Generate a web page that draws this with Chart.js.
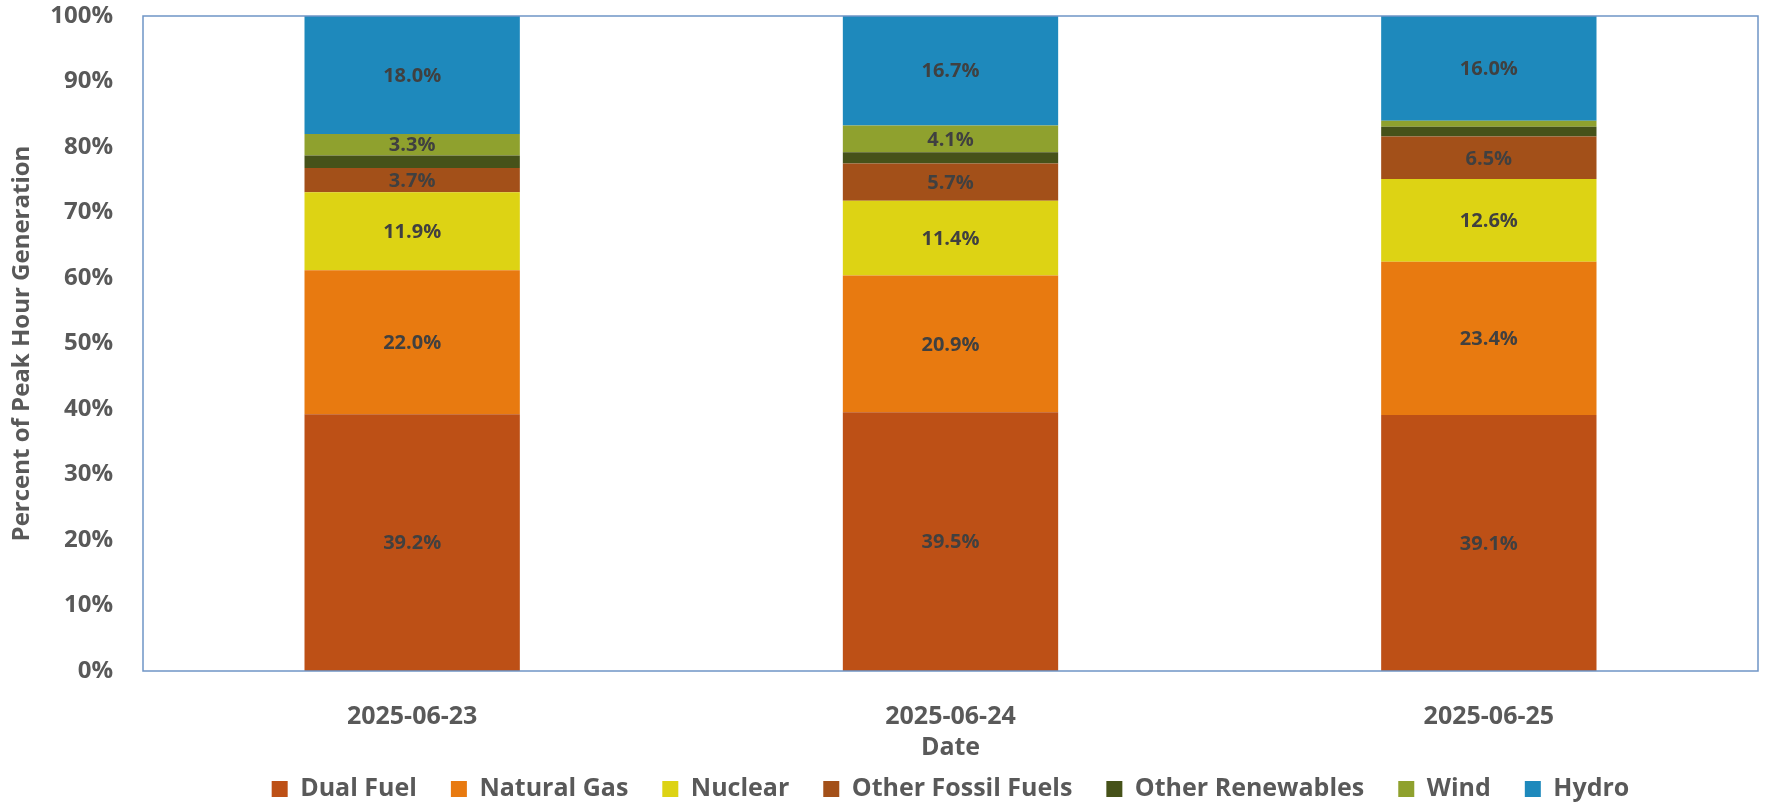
<!DOCTYPE html>
<html>
<head>
<meta charset="utf-8">
<script src="https://cdn.jsdelivr.net/npm/chart.js@4/dist/chart.umd.min.js"></script>
<style>
  html, body { margin: 0; padding: 0; background: #fff; }
  #wrap { width: 1767px; height: 802px; }
</style>
</head>
<body>
<div id="wrap"><canvas id="gen-chart"></canvas></div>
<script>
// Peak hour generation mix, percent

const dates = ["2025-06-23", "2025-06-24", "2025-06-25"];

const dualFuel = [39.2, 39.5, 39.1];
const naturalGas = [22.0, 20.9, 23.4];
const nuclear = [11.9, 11.4, 12.6];
const otherFossil = [3.7, 5.7, 6.5];
const otherRenewables = [1.9, 1.7, 1.5];
const wind = [3.3, 4.1, 0.9];
const hydro = [18.0, 16.7, 16.0];

const yTicks = [0, 10, 20, 30, 40, 50, 60, 70, 80, 90, 100];

const fontFamily = "'Open Sans', 'DejaVu Sans', sans-serif";
const textColor = "#595959";
const legendPad = 34;
const legendFont = 25;

// labels inside the segments, skipped when too thin
const segmentLabels = {
  id: "segmentLabels",
  afterDatasetsDraw(chart) {
    let ctx = chart.ctx;
    ctx.save();
    ctx.font = "bold 20px " + fontFamily;
    ctx.fillStyle = "#404040";
    ctx.textAlign = "center";
    ctx.textBaseline = "middle";
    chart.data.datasets.forEach((ds, i) => {
      let meta = chart.getDatasetMeta(i);
      meta.data.forEach((bar, j) => {
        let v = ds.data[j];
        if (v < 3) return;
        let p = bar.getProps(["x", "y", "base"], true);
        ctx.fillText(v.toFixed(1) + "%", p.x, (p.y + p.base) / 2 + 1);
      });
    });
    ctx.restore();
  },
};

// blue frame round the plot, legend centred on the plot
const plotFrame = {
  id: "plotFrame",
  afterLayout(chart) {
    let a = chart.chartArea;
    let lg = chart.legend;
    if (lg) {
      lg.left = a.left;
      lg.right = a.right;
      // move the legend row up so it sits just under the axis title
      lg.top = chart.height - 13 - legendFont / 2 - legendPad;
    }
  },
  afterDatasetsDraw(chart) {
    let a = chart.chartArea;
    let ctx = chart.ctx;
    ctx.save();
    ctx.strokeStyle = "#6F95C6";
    ctx.lineWidth = 1.5;
    ctx.strokeRect(a.left, a.top, a.right - a.left, a.bottom - a.top);
    ctx.restore();
  },
};

function makeSet(label, data, color) {
  return {
    label: label,
    data: data,
    backgroundColor: color,
    borderWidth: 0,
    barPercentage: 0.4,
    categoryPercentage: 1.0,
  };
}

let ctx = document.getElementById("gen-chart").getContext("2d");
let genChart = new Chart(ctx, {
  type: "bar",
  data: {
    labels: dates,
    datasets: [
      makeSet("Dual Fuel", dualFuel, "#BD5016"),
      makeSet("Natural Gas", naturalGas, "#E87A10"),
      makeSet("Nuclear", nuclear, "#DDD314"),
      makeSet("Other Fossil Fuels", otherFossil, "#A35019"),
      makeSet("Other Renewables", otherRenewables, "#465219"),
      makeSet("Wind", wind, "#8FA12E"),
      makeSet("Hydro", hydro, "#1E89BC"),
    ],
  },
  options: {
    responsive: true,
    maintainAspectRatio: false,
    animation: false,
    devicePixelRatio: 1,
    layout: {
      padding: { left: 0, right: 9, top: 16, bottom: 0 },
    },
    plugins: {
      legend: {
        position: "bottom",
        maxHeight: 29,
        labels: {
          color: textColor,
          font: { family: fontFamily, size: legendFont, weight: "bold" },
          boxWidth: 16,
          boxHeight: 16,
          padding: legendPad,
        },
      },
      tooltip: { enabled: false },
    },
    scales: {
      x: {
        stacked: true,
        grid: { display: false },
        border: { display: false },
        ticks: {
          color: textColor,
          font: { family: fontFamily, size: 25, weight: "bold" },
          padding: 23,
        },
        title: {
          display: true,
          text: "Date",
          color: textColor,
          font: { family: fontFamily, size: 25, weight: "bold" },
          padding: { top: 0, bottom: 10 },
        },
        afterFit(scale) {
          scale.height = 102;
        },
      },
      y: {
        stacked: true,
        min: 0,
        max: 100,
        grid: { display: false },
        border: { display: false },
        afterBuildTicks(scale) {
          scale.ticks = yTicks.map((v) => ({ value: v }));
        },
        ticks: {
          color: textColor,
          font: { family: fontFamily, size: 24, weight: "bold" },
          padding: 22,
          callback: (v) => v + "%",
        },
        title: {
          display: true,
          text: "Percent of Peak Hour Generation",
          color: textColor,
          font: { family: fontFamily, size: 24, weight: "bold" },
          padding: { top: 8, bottom: 0 },
        },
        afterFit(scale) {
          scale.width = 143;
          scale.paddingTop = 0;
          scale.paddingBottom = 0;
        },
      },
    },
  },
  plugins: [segmentLabels, plotFrame],
});
</script>
</body>
</html>
